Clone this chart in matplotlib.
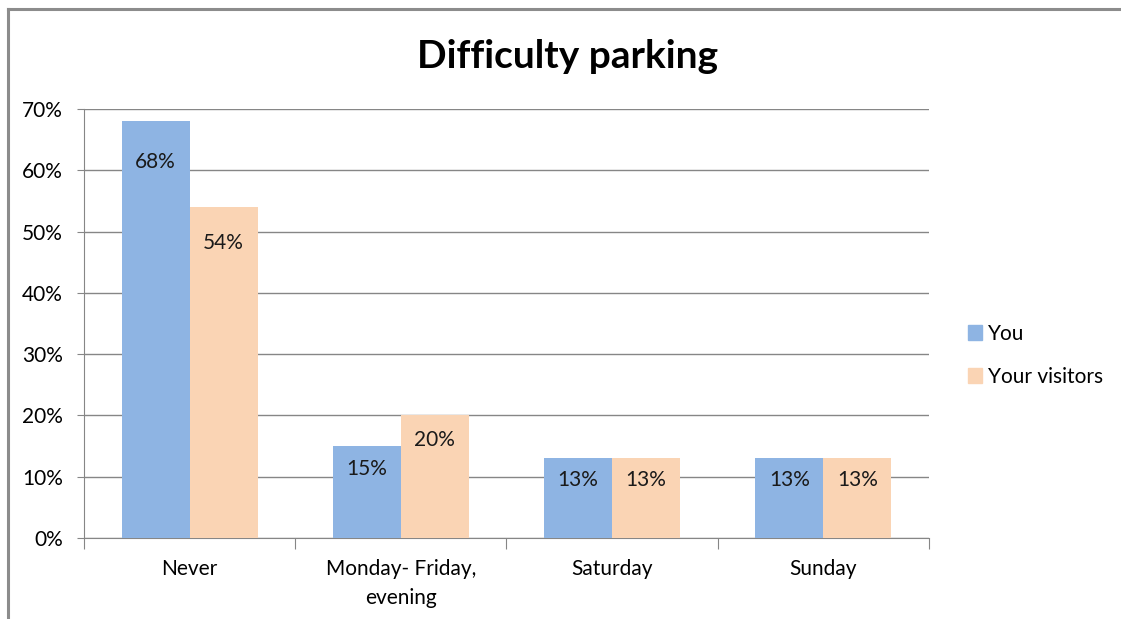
import matplotlib
matplotlib.use("Agg")
import matplotlib.pyplot as plt
import numpy as np
from matplotlib.lines import Line2D
from matplotlib.patches import Patch

categories = ["Never", "Monday- Friday,\nevening", "Saturday", "Sunday"]
you = [68, 15, 13, 13]
visitors = [54, 20, 13, 13]
series_names = ["You", "Your visitors"]
y_ticks = [0, 10, 20, 30, 40, 50, 60, 70]

BLUE = "#8EB4E3"
PEACH = "#FAD4B4"
GRID = "#868686"
FS = 15

plt.rcParams["font.family"] = ["Lato", "DejaVu Sans"]

fig = plt.figure(figsize=(11.21, 6.19), dpi=100)
ax = fig.add_axes([0.0749, 0.1309, 0.7538, 0.693])

x = np.arange(len(categories))
w = 0.322
b1 = ax.bar(x - w / 2, you, w, color=BLUE, zorder=3)
b2 = ax.bar(x + w / 2, visitors, w, color=PEACH, zorder=3)

# labels sit inside the bar top, Excel "inside end" style
for bars, vals in ((b1, you), (b2, visitors)):
    for rect, v in zip(bars, vals):
        ax.annotate(f"{v}%", (rect.get_x() + rect.get_width() / 2, v),
                    xytext=(0, -(12.5 + 0.25 * v)), textcoords="offset points",
                    ha="center", va="center", fontsize=FS, color="#1a1a1a",
                    zorder=4)

ax.set_xlim(-0.5, len(categories) - 0.5)
ax.set_ylim(0, 70)
ax.set_yticks(y_ticks)
ax.set_yticklabels([f"{t}%" for t in y_ticks], fontsize=FS)
ax.yaxis.grid(True, color=GRID, linewidth=1, zorder=0)
ax.tick_params(axis="y", length=5, color=GRID, pad=10)

# category ticks sit between groups
ax.set_xticks(np.arange(len(categories) + 1) - 0.5)
ax.set_xticklabels([])
ax.tick_params(axis="x", length=8, color=GRID)
ax.set_xticks(x, minor=True)
ax.set_xticklabels(categories, minor=True, fontsize=FS, linespacing=1.55)
ax.tick_params(axis="x", which="minor", length=0, pad=15)
for lbl in ax.get_xticklabels(minor=True):
    lbl.set_verticalalignment("top")

for s in ("top", "right"):
    ax.spines[s].set_visible(False)
for s in ("left", "bottom"):
    ax.spines[s].set_color(GRID)

fig.text(0.506, 0.908, "Difficulty parking", ha="center", va="center",
         fontsize=28, fontweight="bold")

handles = [Patch(color=BLUE), Patch(color=PEACH)]
fig.legend(handles, series_names, loc="center left",
           bbox_to_anchor=(0.847, 0.426), frameon=False, fontsize=FS,
           handlelength=0.65, handleheight=0.7, handletextpad=0.3,
           labelspacing=1.1)

# outer chart frame
fig.add_artist(Line2D([0.0067, 0.0067], [0, 0.985], color="#8c8c8c", lw=2.2,
                      transform=fig.transFigure))
fig.add_artist(Line2D([0.0067, 1], [0.985, 0.985], color="#8c8c8c", lw=2.2,
                      transform=fig.transFigure))

fig.savefig("out.png", dpi=100)
